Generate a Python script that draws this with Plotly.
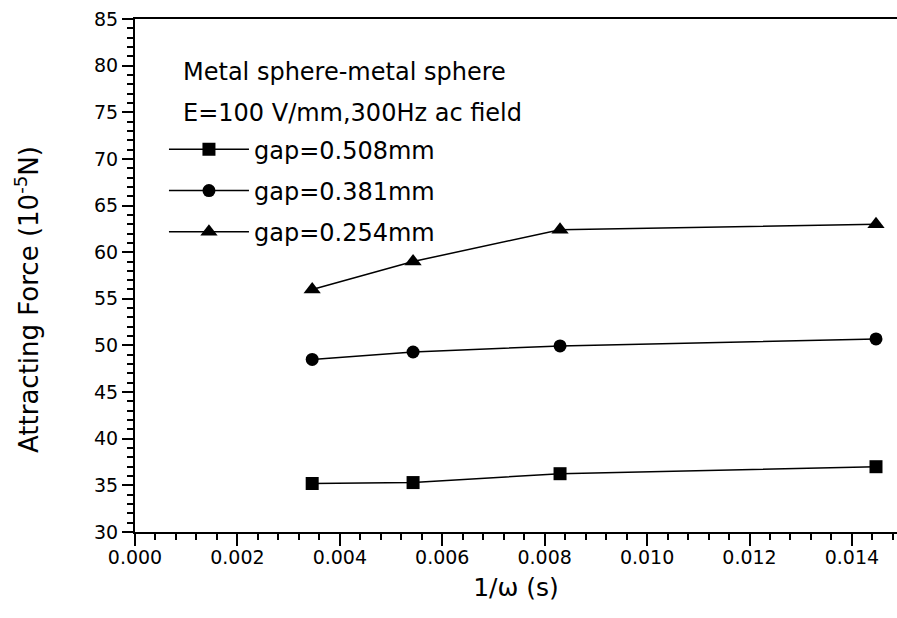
import plotly.graph_objects as go

# Data
x_inv_omega = [0.00346, 0.00543, 0.0083, 0.01447]
gap_0508 = [35.2, 35.3, 36.25, 37.0]
gap_0381 = [48.5, 49.3, 49.95, 50.7]
gap_0254 = [56.0, 59.0, 62.4, 63.0]

series_names = ["gap=0.508mm", "gap=0.381mm", "gap=0.254mm"]
series_values = [gap_0508, gap_0381, gap_0254]
series_symbols = ["square", "circle", "triangle-up"]

FONT = "DejaVu Sans"

fig = go.Figure()
for i, (name, vals, sym) in enumerate(zip(series_names, series_values, series_symbols)):
    fig.add_trace(go.Scatter(
        x=x_inv_omega, y=vals, name=name, mode="lines+markers",
        legendgroup=f"g{i}",
        line=dict(color="black", width=1.5),
        marker=dict(symbol=sym, size=13 if sym != "triangle-up" else 15, color="black"),
    ))

fig.update_layout(
    width=897, height=618,
    margin=dict(l=135, r=0, t=19, b=86),
    plot_bgcolor="white", paper_bgcolor="white",
    font=dict(family=FONT, color="black", size=19),
    showlegend=True,
    legend=dict(
        x=0.038, y=0.789, xanchor="left", yanchor="top",
        font=dict(family=FONT, size=24, color="black"),
        bgcolor="rgba(0,0,0,0)", tracegroupgap=7,
        itemwidth=80,
    ),
    annotations=[
        dict(text="Metal sphere-metal sphere", xref="paper", yref="paper",
             x=(181 - 135) / 762, y=1 - (72 - 19) / 513, xanchor="left", yanchor="middle",
             showarrow=False, font=dict(family=FONT, size=24, color="black")),
        dict(text="E=100 V/mm,300Hz ac field", xref="paper", yref="paper",
             x=(181 - 135) / 762, y=1 - (113 - 19) / 513, xanchor="left", yanchor="middle",
             showarrow=False, font=dict(family=FONT, size=24, color="black")),
        dict(text="Attracting Force (10<sup>-5</sup>N)", xref="paper", yref="paper",
             x=(27 - 135) / 762, y=1 - (300 - 19) / 513, xanchor="center", yanchor="middle",
             textangle=-90, showarrow=False, font=dict(family=FONT, size=26, color="black")),
    ],
)

fig.update_xaxes(
    range=[0, 0.01488], tickvals=[0, 0.002, 0.004, 0.006, 0.008, 0.010, 0.012, 0.014],
    ticktext=["0.000", "0.002", "0.004", "0.006", "0.008", "0.010", "0.012", "0.014"],
    ticks="outside", ticklen=12, tickwidth=2, tickcolor="black",
    showline=True, linecolor="black", linewidth=2, mirror=True,
    showgrid=False, zeroline=False, ticklabelstandoff=-5,
    minor=dict(dtick=0.0004, tick0=0, ticks="outside", ticklen=6, tickwidth=2, tickcolor="black"),
    tickfont=dict(family=FONT, size=19, color="black"),
    title=dict(text="1/ω (s)", font=dict(family=FONT, size=25, color="black"), standoff=12),
)
fig.update_yaxes(
    range=[30, 85], tickvals=[30, 35, 40, 45, 50, 55, 60, 65, 70, 75, 80, 85],
    ticks="outside", ticklen=11, tickwidth=2, tickcolor="black",
    showline=True, linecolor="black", linewidth=2, mirror=False,
    showgrid=False, zeroline=False,
    minor=dict(dtick=1, tick0=30, ticks="outside", ticklen=6, tickwidth=2, tickcolor="black"),
    tickfont=dict(family=FONT, size=19, color="black"),
)

fig.write_html("out.html")
